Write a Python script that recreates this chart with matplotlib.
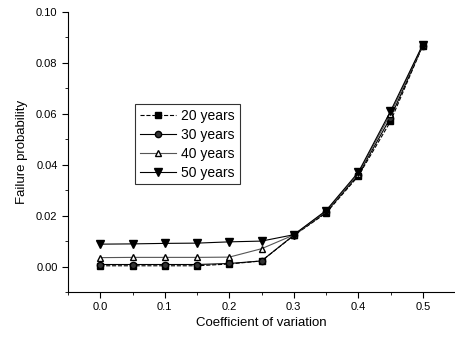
import matplotlib
matplotlib.use("Agg")
import matplotlib.pyplot as plt
from matplotlib.ticker import MultipleLocator, FormatStrFormatter

plt.rcParams['font.family'] = ['Liberation Sans', 'DejaVu Sans']

cov = [0.0, 0.05, 0.10, 0.15, 0.20, 0.25, 0.30, 0.35, 0.40, 0.45, 0.50]
p20 = [0.0003, 0.0003, 0.0003, 0.0003, 0.0010, 0.0022, 0.0122, 0.0210, 0.0355, 0.0570, 0.0868]
p30 = [0.0008, 0.0008, 0.0008, 0.0008, 0.0012, 0.0022, 0.0123, 0.0213, 0.0360, 0.0585, 0.0868]
p40 = [0.0035, 0.0036, 0.0036, 0.0036, 0.0037, 0.0070, 0.0124, 0.0217, 0.0365, 0.0600, 0.0870]
p50 = [0.0088, 0.0089, 0.0091, 0.0092, 0.0097, 0.0100, 0.0125, 0.0220, 0.0370, 0.0610, 0.0872]
labels = ['20 years', '30 years', '40 years', '50 years']

fig = plt.figure(figsize=(4.55, 3.37), dpi=100)
ax = fig.add_axes([68/455, 45/337, 387/455, 280/337])

ax.plot(cov, p20, color='black', lw=0.8, ls='--', marker='s', ms=4.5, mfc='black', label=labels[0])
ax.plot(cov, p30, color='black', lw=0.8, ls='-', marker='o', ms=4.5, mfc='#333333', label=labels[1])
ax.plot(cov, p40, color='#555555', lw=0.8, ls='-', marker='^', ms=5, mfc='white', mec='black', label=labels[2])
ax.plot(cov, p50, color='black', lw=0.8, ls='-', marker='v', ms=5.5, mfc='black', label=labels[3])

ax.set_xlim(-0.05, 0.55)
ax.set_ylim(-0.01, 0.10)
ax.xaxis.set_major_locator(MultipleLocator(0.1))
ax.xaxis.set_minor_locator(MultipleLocator(0.05))
ax.yaxis.set_major_locator(MultipleLocator(0.02))
ax.yaxis.set_minor_locator(MultipleLocator(0.01))
ax.xaxis.set_major_formatter(FormatStrFormatter('%.1f'))
ax.yaxis.set_major_formatter(FormatStrFormatter('%.2f'))
ax.set_yticks([0.0, 0.02, 0.04, 0.06, 0.08, 0.10])

for s in ['top', 'right']:
    ax.spines[s].set_visible(False)
ax.spines['left'].set_bounds(-0.01, 0.10)
ax.tick_params(which='major', direction='out', length=4, width=0.8, labelsize=8)
ax.tick_params(which='minor', direction='out', length=2, width=0.6)

ax.set_xlabel('Coefficient of variation', fontsize=9.5, labelpad=3)
ax.set_ylabel('Failure probability', fontsize=9.5, labelpad=6)

leg = ax.legend(loc='upper left', bbox_to_anchor=(0.173, 0.671), borderaxespad=0,
                fontsize=10, frameon=True, fancybox=False, edgecolor='black',
                handlelength=2.6, labelspacing=0.35, borderpad=0.35, handletextpad=0.4)
leg.get_frame().set_linewidth(0.8)

fig.savefig('out.png', dpi=100)
